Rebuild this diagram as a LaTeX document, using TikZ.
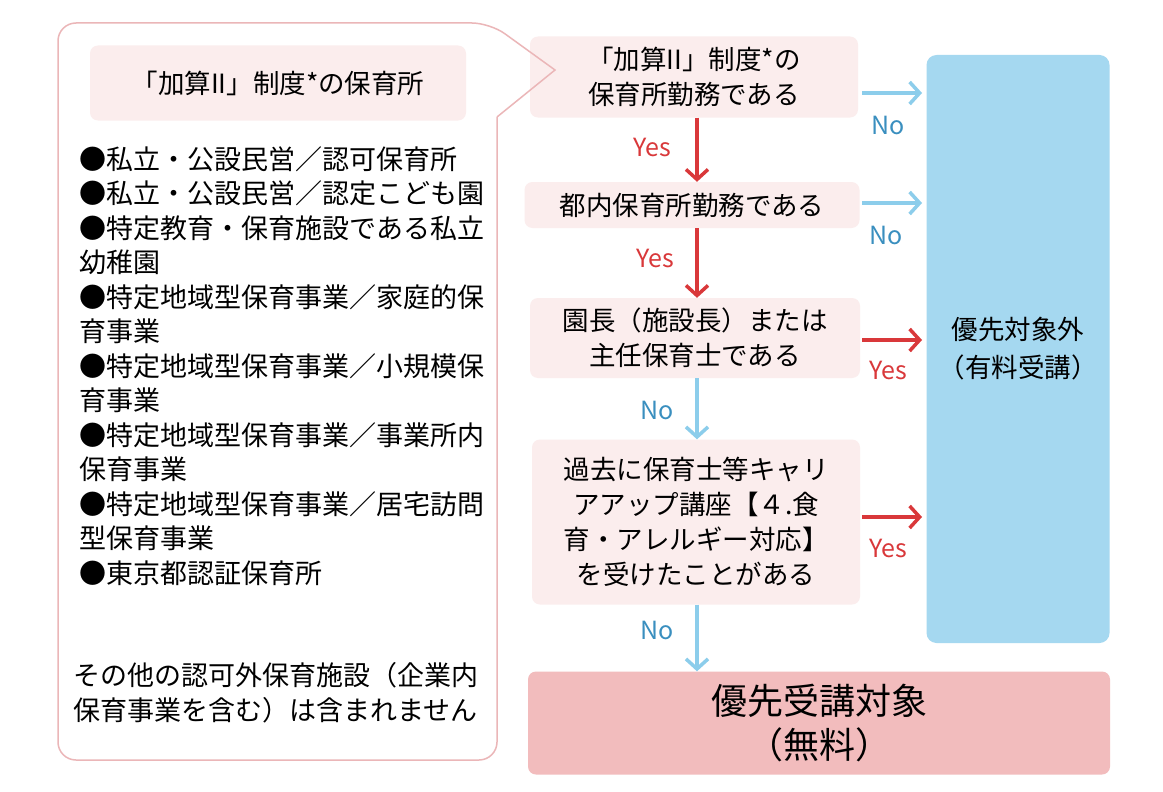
\documentclass[tikz,border=0pt]{standalone}
\usepackage{fontspec}
\setmainfont{Noto Sans CJK JP}
\usetikzlibrary{arrows.meta,positioning}
\definecolor{boxpink}{HTML}{FBEDED}
\definecolor{endpink}{HTML}{F2BCBD}
\definecolor{outblue}{HTML}{A5D8F0}
\definecolor{arrred}{HTML}{D9383A}
\definecolor{arrblue}{HTML}{8CCDEB}
\definecolor{noblue}{HTML}{3A8FBF}
\definecolor{edgepink}{HTML}{EBB6B8}
\tikzset{>={Stealth[scale=1]}}
\tikzset{
  stepbox/.style={fill=boxpink, rounded corners=8pt, align=center, font=\fontsize{26.5}{35}\selectfont},
  yesarrow/.style={draw=arrred, line width=3.5pt, -{Straight Barb[length=10pt,width=22pt]}},
  noarrow/.style={draw=arrblue, line width=3.5pt, -{Straight Barb[length=10pt,width=22pt]}},
  yeslbl/.style={text=arrred, font=\fontsize{25}{28}\selectfont},
  nolbl/.style={text=noblue, font=\fontsize{25}{28}\selectfont}
}
\begin{document}
\begin{tikzpicture}[x=1pt,y=-1pt]
  \useasboundingbox[fill=white] (0,0) rectangle (1163,792);
  \node[stepbox, minimum width=376pt, minimum height=75pt] (kind) at (278,83) {「加算II」制度*の保育所};
  \node[anchor=north west, align=left, font=\fontsize{27}{34.5}\selectfont] (list) at (76,143)
    {●私立・公設民営／認可保育所\\
     ●私立・公設民営／認定こども園\\
     ●特定教育・保育施設である私立\\
     幼稚園\\
     ●特定地域型保育事業／家庭的保\\
     育事業\\
     ●特定地域型保育事業／小規模保\\
     育事業\\
     ●特定地域型保育事業／事業所内\\
     保育事業\\
     ●特定地域型保育事業／居宅訪問\\
     型保育事業\\
     ●東京都認証保育所};
  \node[anchor=north west, align=left, font=\fontsize{27}{34.5}\selectfont] (other) at (70,659)
    {その他の認可外保育施設（企業内\\保育事業を含む）は含まれません};
  % flow
  \node[stepbox, minimum width=328pt, minimum height=81pt] (qa) at (694,77) {「加算II」制度*の\\保育所勤務である};
  \node[stepbox, minimum width=335pt, minimum height=46pt] (qb) at (692,205) {都内保育所勤務である};
  \node[stepbox, minimum width=330pt, minimum height=80pt] (qc) at (695,338) {園長（施設長）または\\主任保育士である};
  \node[stepbox, minimum width=328pt, minimum height=165pt] (qd) at (696,522) {過去に保育士等キャリ\\アアップ講座【４.食\\育・アレルギー対応】\\を受けたことがある};
  \node[fill=endpink, rounded corners=8pt, minimum width=582pt, minimum height=103pt, align=center,
        font=\fontsize{36}{44}\selectfont] (target) at (819,723) {優先受講対象\\（無料）};
  \node[fill=outblue, rounded corners=10pt, minimum width=183pt, minimum height=588pt, align=center,
        font=\fontsize{26.5}{38}\selectfont] (outside) at (1018,349) {優先対象外\\（有料受講）};
  % callout
  \draw[edgepink, line width=1.5pt, rounded corners=18pt]
    (497,117) -- (497,760) -- (58,760) -- (58,23) -- (490,23) [sharp corners] -- (555,70) -- (497,117);
  % arrows
  \draw[yesarrow] (qa.south -| 697,0) -- (qb.north -| 697,0);
  \draw[yesarrow] (qb.south -| 697,0) -- (qc.north -| 697,0);
  \draw[noarrow] (qc.south -| 697,0) -- (qd.north -| 697,0);
  \draw[noarrow] (qd.south -| 697,0) -- (target.north -| 697,0);
  \node[yeslbl] (ya) at (652,148) {Yes};
  \node[yeslbl] (yb) at (655,258) {Yes};
  \node[nolbl] (nc) at (657,410) {No};
  \node[nolbl] (nd) at (657,630) {No};
  \coordinate (ea) at (922,93);
  \coordinate (eb) at (922,203);
  \coordinate (ec) at (922,340);
  \coordinate (ed) at (922,517);
  \draw[noarrow] (862,93) -- (ea);
  \draw[noarrow] (862,203) -- (eb);
  \draw[yesarrow] (862,340) -- (ec);
  \draw[yesarrow] (862,517) -- (ed);
  \node[nolbl] (na) at (888,125) {No};
  \node[nolbl] (nb) at (886,235) {No};
  \node[yeslbl] (yc) at (888,370) {Yes};
  \node[yeslbl] (yd) at (888,548) {Yes};
\end{tikzpicture}
\end{document}
